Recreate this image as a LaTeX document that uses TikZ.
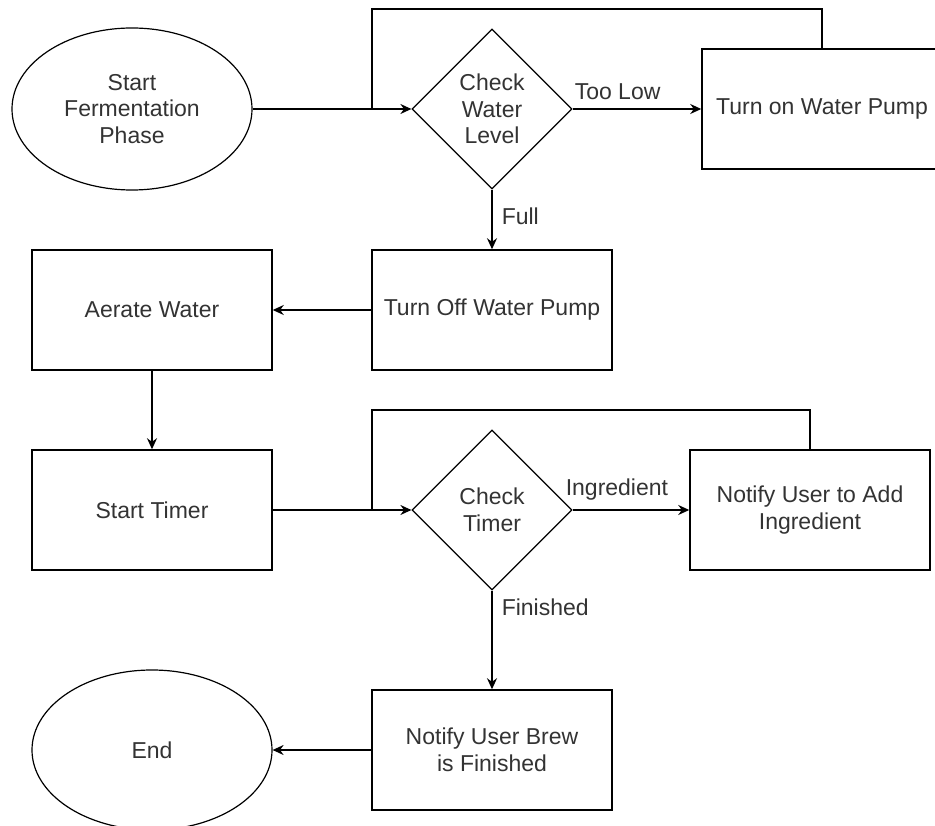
\documentclass[tikz,border=0pt]{standalone}
\usepackage{fontspec}
\setmainfont{Liberation Sans}
\usetikzlibrary{shapes.geometric,arrows.meta}
\definecolor{txt}{HTML}{333333}
\begin{document}
\begin{tikzpicture}[x=1pt,y=-1pt,
  every node/.style={font=\fontsize{23}{26.5}\selectfont, text=txt, align=center},
  boxnode/.style={draw=black, line width=1.5pt, rectangle, minimum width=240pt, minimum height=120pt, inner sep=0pt},
  ovalnode/.style={draw=black, line width=1.2pt, ellipse, minimum width=240pt, minimum height=162pt, inner sep=0pt},
  decnode/.style={draw=black, line width=1.2pt, diamond, minimum width=160pt, minimum height=160pt, inner sep=0pt},
  conn/.style={line width=1.5pt, draw=black},
  arr/.style={conn, -{Stealth[length=11pt,width=10pt]}},
  lbl/.style={inner sep=0pt}
]
\clip (0,0) rectangle (935,826);
\fill[white] (0,0) rectangle (935,826);

\node[ovalnode] (start) at (132,109) {Start\\Fermentation\\Phase};
\node[decnode] (d1) at (492,109) {Check\\Water\\Level};
\node[boxnode] (pumpon) at (822,109) {Turn on Water Pump};
\node[boxnode] (pumpoff) at (492,310) {Turn Off Water Pump};
\node[boxnode] (aerate) at (152,310) {Aerate Water};
\node[boxnode] (timer) at (152,510) {Start Timer};
\node[decnode] (d2) at (492,510) {Check\\Timer};
\node[boxnode] (notify) at (810,510) {Notify User to Add\\Ingredient};
\node[boxnode] (brew) at (492,750) {Notify User Brew\\is Finished};
\node[ovalnode, minimum height=160pt] (end) at (152,750) {End};

\coordinate (j1) at (372,109);
\coordinate (t1) at (372,9);
\coordinate (j2) at (372,510);
\coordinate (t2) at (372,410);

\draw[arr] (start.east) -- (d1.west);
\draw[arr] (d1.east) -- node[lbl, above=9pt, pos=0.35] (lowlbl) {Too Low} (pumpon.west |- d1.east);
\draw[conn] (pumpon.north) |- (t1) -- (j1);
\draw[arr] (d1.south) -- node[lbl, right=9pt, pos=0.45] (fulllbl) {Full} (pumpoff.north);
\draw[arr] (pumpoff.west) -- (aerate.east);
\draw[arr] (aerate.south) -- (timer.north);
\draw[arr] (timer.east) -- (d2.west);
\draw[arr] (d2.east) -- node[lbl, above=9pt, pos=0.38] (inglbl) {Ingredient} (notify.west |- d2.east);
\draw[conn] (notify.north) |- (t2) -- (j2);
\draw[arr] (d2.south) -- node[lbl, right=9pt, pos=0.17] (finlbl) {Finished} (brew.north);
\draw[arr] (brew.west) -- (end.east);
\end{tikzpicture}
\end{document}
